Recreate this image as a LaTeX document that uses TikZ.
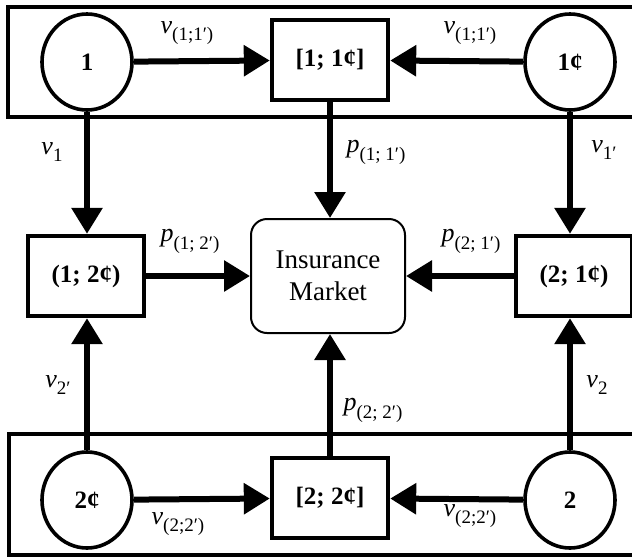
\documentclass[tikz,border=0pt]{standalone}
\usepackage{fontspec}
\setmainfont{Liberation Serif}
\usetikzlibrary{arrows.meta}
\usetikzlibrary{shapes.geometric}

\newcommand{\flowlab}[2]{\textit{#1}\raisebox{-0.3em}{\fontsize{9.5}{11}\selectfont #2}}

\begin{document}
\begin{tikzpicture}[x=0.5pt,y=-0.5pt,
                frame/.style={line width=2.4pt},
                agent/.style={ellipse,draw,line width=1.8pt,minimum width=45pt,minimum height=48pt,inner sep=0pt,font=\fontsize{12.5}{14}\selectfont\bfseries},
                pairbox/.style={rectangle,draw,line width=2.2pt,minimum width=58pt,minimum height=40pt,font=\fontsize{12.5}{14}\selectfont\bfseries},
                market/.style={rectangle,draw,rounded corners=8pt,line width=1pt,minimum width=77pt,minimum height=57pt,align=center,font=\fontsize{13.5}{16}\selectfont},
                flow/.style={line width=3pt,-{Triangle[length=13pt,width=15pt]}},
                lab/.style={inner sep=0pt,font=\fontsize{13}{15}\selectfont}]
                \clip (0,0) rectangle (632,558);

                \draw[frame] (8,7) rectangle (660,117);
                \draw[frame] (9,434) rectangle (660,555);

                \node[agent] (A1) at (87,62) {1};
                \node[pairbox] (B11) at (330,60) {[1; 1¢]};
                \node[agent] (A1p) at (570,62) {1¢};

                \node[pairbox] (B12) at (86,276) {(1; 2¢)};
                \node[market] (M) at (328,276) {Insurance\\Market};
                \node[pairbox] (B21) at (574,276) {(2; 1¢)};

                \node[agent] (A2p) at (87,500) {2¢};
                \node[pairbox] (B22) at (330,498) {[2; 2¢]};
                \node[agent] (A2) at (570,500) {2};

                \draw[flow] (A1) -- (B11);
                \draw[flow] (A1p) -- (B11);
                \draw[flow] (A2p) -- (B22);
                \draw[flow] (A2) -- (B22);

                \draw[flow] (B12) -- (M);
                \draw[flow] (B21) -- (M);

                \draw[flow] (A1.south) -- (A1.south |- B12.north);
                \draw[flow] (B11.south) -- (B11.south |- M.north);
                \draw[flow] (A1p.south) -- (A1p.south |- B21.north);
                \draw[flow] (A2p.north) -- (A2p.north |- B12.south);
                \draw[flow] (B22.north) -- (B22.north |- M.south);
                \draw[flow] (A2.north) -- (A2.north |- B21.south);

                \node[lab] (L1) at (187,33) {\flowlab{v}{(1;1′)}};
                \node[lab] (L2) at (470,33) {\flowlab{v}{(1;1′)}};
                \node[lab] (L3) at (52,152) {\flowlab{v}{1}};
                \node[lab] (L4) at (376,152) {\flowlab{p}{(1; 1′)}};
                \node[lab] (L5) at (604,150) {\flowlab{v}{1′}};
                \node[lab] (L6) at (190,241) {\flowlab{p}{(1; 2′)}};
                \node[lab] (L7) at (471,241) {\flowlab{p}{(2; 1′)}};
                \node[lab] (L8) at (58,385) {\flowlab{v}{2′}};
                \node[lab] (L9) at (373,410) {\flowlab{p}{(2; 2′)}};
                \node[lab] (L10) at (597,385) {\flowlab{v}{2}};
                \node[lab] (L11) at (178,524) {\flowlab{v}{(2;2′)}};
                \node[lab] (L12) at (470,516) {\flowlab{v}{(2;2′)}};
            \end{tikzpicture}
\end{document}
